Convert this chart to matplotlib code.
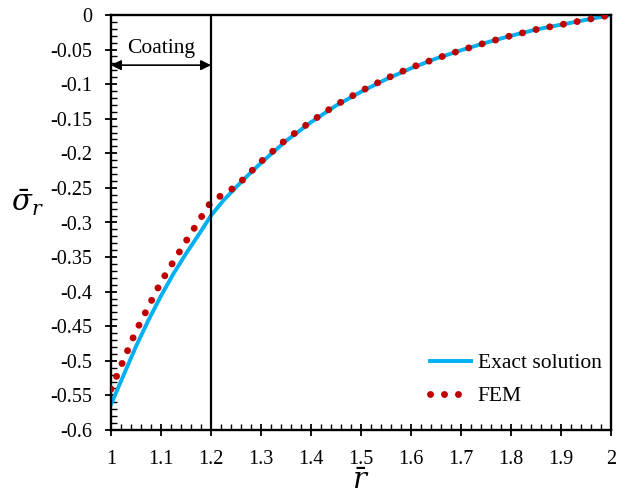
import numpy as np
import matplotlib.pyplot as plt

# values
r_exact = [1.0, 1.025, 1.05, 1.075, 1.1, 1.125, 1.15, 1.175, 1.2, 1.225, 1.25, 1.275, 1.3,
           1.35, 1.4, 1.45, 1.5, 1.55, 1.6, 1.65, 1.7, 1.75, 1.8, 1.85, 1.9, 1.95, 2.0]
s_exact = [-0.563, -0.521, -0.479, -0.441, -0.406, -0.374, -0.345, -0.318, -0.290, -0.268,
           -0.249, -0.231, -0.214, -0.182, -0.155, -0.131, -0.111, -0.093, -0.077, -0.063,
           -0.051, -0.040, -0.030, -0.021, -0.014, -0.007, 0.0]

r_fem = [1.0, 1.05, 1.1, 1.15, 1.2, 1.25, 1.3, 1.35, 1.4, 1.45, 1.5, 1.55, 1.6, 1.65,
         1.7, 1.75, 1.8, 1.85, 1.9, 1.95, 2.0]
s_fem = [-0.541, -0.457, -0.386, -0.327, -0.270, -0.248, -0.212, -0.180, -0.154, -0.130,
         -0.110, -0.092, -0.076, -0.063, -0.051, -0.040, -0.030, -0.021, -0.014, -0.007, 0.0]

plt.rcParams['font.family'] = ['Liberation Serif', 'DejaVu Serif']
plt.rcParams['mathtext.fontset'] = 'dejavuserif'

fig = plt.figure(figsize=(6.25, 5), dpi=100)
ax = fig.add_axes([0.1776, 0.14, 0.8, 0.83])

ax.plot(r_exact, s_exact, color='#00B0F0', lw=2.8, label='Exact solution', zorder=2)
ax.plot(r_fem, s_fem, color='#C00000', lw=5, linestyle=(0, (0.01, 2.0)),
        dash_capstyle='round', label='FEM', zorder=3)

ax.axvline(1.2, color='black', lw=1.6, zorder=4)
ax.annotate('', xy=(1.0, -0.0725), xytext=(1.2, -0.0725),
            arrowprops=dict(arrowstyle='<|-|>', color='black', lw=1.2,
                            shrinkA=0, shrinkB=0, mutation_scale=15))
ax.text(1.1, -0.048, 'Coating', ha='center', va='center', fontsize=15.5)

ax.set_xlim(1, 2)
ax.set_ylim(-0.6, 0)
ax.set_xticks(np.arange(1, 2.01, 0.1))
ax.set_xticklabels(['1', '1.1', '1.2', '1.3', '1.4', '1.5', '1.6', '1.7', '1.8', '1.9', '2'])
ax.set_yticks(np.arange(-0.6, 0.001, 0.05))
ax.set_yticklabels(['-0.6', '-0.55', '-0.5', '-0.45', '-0.4', '-0.35', '-0.3', '-0.25',
                    '-0.2', '-0.15', '-0.1', '-0.05', '0'])
ax.set_xticks(np.arange(1, 2.001, 0.02), minor=True)
ax.set_yticks(np.arange(-0.6, 0.0001, 0.01), minor=True)
ax.tick_params(which='major', direction='inout', length=9, width=1.3, labelsize=14.5)
ax.tick_params(which='minor', direction='in', length=4, width=1.0)
ax.tick_params(axis='x', pad=10)
ax.tick_params(axis='y', pad=9)
for s in ax.spines.values():
    s.set_linewidth(1.7)

ax.set_xlabel(r'$\bar{r}$', fontsize=21, va='center')
ax.set_ylabel(r'$\bar{\sigma}_r$', fontsize=21, rotation=0, ha='center', va='center')
ax.xaxis.set_label_coords(0.5, -0.125)
ax.yaxis.set_label_coords(-0.168, 0.547)

ax.legend(loc='lower right', bbox_to_anchor=(1.02, 0.01), frameon=False, fontsize=15.5,
          handlelength=1.9, handletextpad=0.3, labelspacing=0.6)

fig.savefig('out.png', dpi=100)
